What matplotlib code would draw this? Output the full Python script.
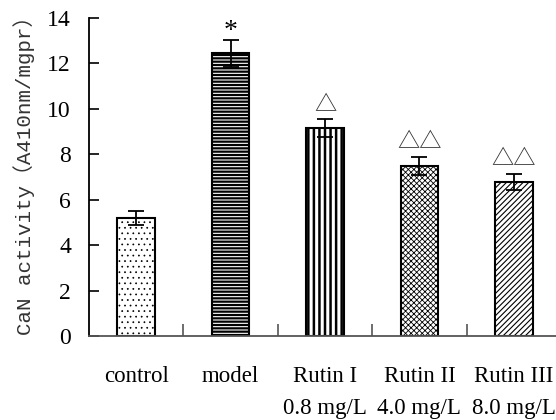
import numpy as np
import matplotlib
matplotlib.use("Agg")
import matplotlib.pyplot as plt

groups = ["control", "model", "Rutin I\n0.8 mg/L", "Rutin II\n4.0 mg/L", "Rutin III\n8.0 mg/L"]
values = [5.2, 12.45, 9.15, 7.5, 6.8]
errors = [0.3, 0.6, 0.4, 0.4, 0.35]
marks = ["", "*", "\u25b3", "\u25b3\u25b3", "\u25b3\u25b3"]
hatches = ["...", "-----", "|||", "xxxxxx", "//////"]
hatch_lw = [0.5, 1.6, 1.8, 0.6, 0.8]
yticks = [0, 2, 4, 6, 8, 10, 12, 14]

fig = plt.figure(figsize=(5.56, 4.20), dpi=100)
ax = fig.add_axes([0.160, 0.200, 0.849, 0.757])

x = np.arange(len(groups))
for i in range(len(groups)):
    with plt.rc_context({"hatch.linewidth": hatch_lw[i]}):
        ax.bar(x[i], values[i], width=0.4, color="white", edgecolor="black",
               linewidth=1.5, hatch=hatches[i], zorder=2)
ax.errorbar(x, values, yerr=errors, fmt="none", ecolor="black",
            elinewidth=1.3, capsize=6, capthick=1.3, zorder=3)

for i in range(len(groups)):
    if marks[i] == "*":
        ax.text(x[i], values[i] + errors[i] - 0.2, marks[i], ha="center", va="bottom",
                fontsize=20, family="Liberation Serif")
    elif marks[i]:
        ax.text(x[i], values[i] + errors[i] + 0.15, marks[i], ha="center", va="bottom",
                fontsize=16, family=["Noto Sans CJK SC", "DejaVu Sans"], color="#333333")

ax.set_xlim(-0.5, 4.5)
ax.set_ylim(0, 14)
ax.set_yticks(yticks)
ax.set_yticklabels([str(t) for t in yticks], family="Liberation Serif", fontsize=17)
ax.set_xticks(x + 0.5)
ax.set_xticklabels([])
ax.tick_params(axis="x", direction="in", length=9, width=1.2, colors="#555555")
ax.tick_params(axis="y", direction="in", length=7, width=1.2, pad=13)

for i in range(len(groups)):
    ax.text(x[i], -1.3, groups[i], ha="center", va="top", fontsize=16.5,
            family="Liberation Serif", linespacing=1.7)

ax.spines["top"].set_visible(False)
ax.spines["right"].set_visible(False)
ax.spines["left"].set_linewidth(1.3)
ax.spines["bottom"].set_linewidth(1.3)
ax.spines["bottom"].set_color("#555555")

ax.set_ylabel("CaN activity\uff08A410nm/mgpr\uff09", fontsize=15,
              family=["Liberation Mono", "Noto Sans CJK SC"], color="#333333")
ax.yaxis.set_label_coords(-0.115, 0.52)

fig.savefig("out.png", dpi=100)
